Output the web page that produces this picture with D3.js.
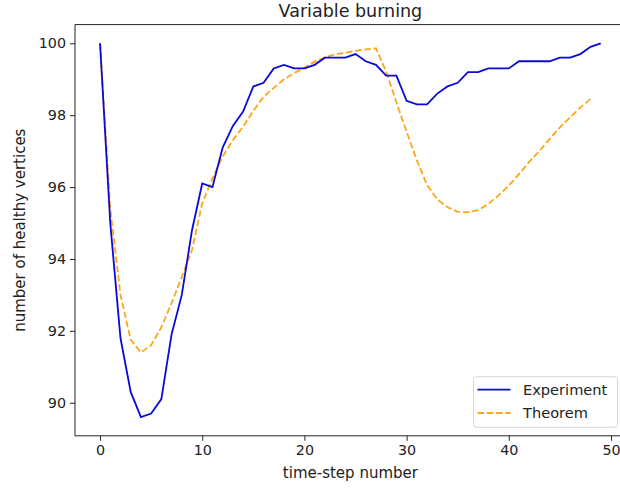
<!DOCTYPE html>
<html>
<head>
<meta charset="utf-8">
<script src="https://cdn.jsdelivr.net/npm/d3@7"></script>
<style>
  body { margin: 0; background: #fff; }
  svg { display: block; font-family: "DejaVu Sans", sans-serif; }
</style>
</head>
<body>
<svg id="chart" width="620" height="490"></svg>
<script>
// values
const steps = d3.range(0, 50);
const experiment = [
  100.0, 95.0, 91.8, 90.3, 89.6, 89.7, 90.1, 91.9, 93.0, 94.8,
  96.1, 96.0, 97.1, 97.7, 98.1, 98.8, 98.9, 99.3, 99.4, 99.3,
  99.3, 99.4, 99.6, 99.6, 99.6, 99.7, 99.5, 99.4, 99.1, 99.1,
  98.4, 98.3, 98.3, 98.6, 98.8, 98.9, 99.2, 99.2, 99.3, 99.3,
  99.3, 99.5, 99.5, 99.5, 99.5, 99.6, 99.6, 99.7, 99.9, 100.0
];
const theorem = [
  100.0, 95.4, 93.0, 91.75, 91.4, 91.6, 92.1, 92.77, 93.5, 94.25,
  95.55, 96.24, 96.85, 97.31, 97.68, 98.12, 98.51, 98.76, 99.0, 99.17,
  99.32, 99.49, 99.61, 99.69, 99.74, 99.79, 99.83, 99.86, 99.21, 98.36,
  97.54, 96.75, 96.06, 95.66, 95.44, 95.31, 95.3, 95.36, 95.53, 95.77,
  96.04, 96.36, 96.7, 97.01, 97.34, 97.66, 97.94, 98.21, 98.45
];
const xTicks = [0, 10, 20, 30, 40, 50];
const yTicks = [90, 92, 94, 96, 98, 100];
const seriesNames = ["Experiment", "Theorem"];

const svg = d3.select("#chart");
const plotLeft = 75, plotTop = 24.6, plotBottom = 435.8, plotRight = 625.8;

// matplotlib style 5% margins around the data
const xExt = [0, 49];
const xPad = (xExt[1] - xExt[0]) * 0.05;
const yMin = d3.min(experiment.concat(theorem)), yMax = d3.max(experiment.concat(theorem));
const yPad = (yMax - yMin) * 0.05;

const x = d3.scaleLinear().domain([xExt[0] - xPad, xExt[1] + xPad]).range([plotLeft, plotRight]);
const y = d3.scaleLinear().domain([yMin - yPad, yMax + yPad]).range([plotBottom, plotTop]);

const blue = "#0a0ad8", orange = "#ffa51a", dash = "6.5,2.8";

// axes
const xAxis = svg.append("g")
  .attr("transform", `translate(0,${plotBottom})`)
  .call(d3.axisBottom(x).tickValues(xTicks).tickSize(5).tickPadding(4).tickFormat(d3.format("d")));
const yAxis = svg.append("g")
  .attr("transform", `translate(${plotLeft},0)`)
  .call(d3.axisLeft(y).tickValues(yTicks).tickSize(5).tickPadding(4).tickFormat(d3.format("d")));

[xAxis, yAxis].forEach((g) => {
  g.selectAll("text").attr("font-size", 14.3).attr("fill", "#222").attr("font-family", "DejaVu Sans");
  g.selectAll("line").attr("stroke", "#222");
  g.select(".domain").remove();
});

// spines (frame)
svg.append("path")
  .attr("d", `M${plotLeft},${plotTop}H${plotRight}M${plotLeft},${plotTop}V${plotBottom}H${plotRight}`)
  .attr("fill", "none")
  .attr("stroke", "#222")
  .attr("stroke-width", 1);

const line = (vals) => d3.line()
  .x((d, i) => x(steps[i]))
  .y((d) => y(d))(vals);

svg.append("path")
  .attr("d", line(theorem))
  .attr("fill", "none")
  .attr("stroke", orange)
  .attr("stroke-width", 1.8)
  .attr("stroke-dasharray", dash);

svg.append("path")
  .attr("d", line(experiment))
  .attr("fill", "none")
  .attr("stroke", blue)
  .attr("stroke-width", 1.8);

// title and labels
svg.append("text")
  .attr("x", (plotLeft + plotRight) / 2)
  .attr("y", 17)
  .attr("text-anchor", "middle")
  .attr("font-size", 17.5)
  .attr("fill", "#222")
  .text("Variable burning");

svg.append("text")
  .attr("x", (plotLeft + plotRight) / 2)
  .attr("y", 478)
  .attr("text-anchor", "middle")
  .attr("font-size", 15)
  .attr("fill", "#222")
  .text("time-step number");

svg.append("text")
  .attr("transform", `translate(25,${(plotTop + plotBottom) / 2}) rotate(-90)`)
  .attr("text-anchor", "middle")
  .attr("font-size", 15)
  .attr("fill", "#222")
  .text("number of healthy vertices");

// legend
const legend = svg.append("g").attr("transform", "translate(473.5,376.7)");
legend.append("rect")
  .attr("width", 144)
  .attr("height", 50.6)
  .attr("rx", 3)
  .attr("fill", "#fff")
  .attr("fill-opacity", 0.8)
  .attr("stroke", "#d6d6d6");

const styles = [
  { color: blue, dash: null },
  { color: orange, dash: dash }
];
seriesNames.forEach((name, i) => {
  const cy = 13 + i * 23.3;
  legend.append("line")
    .attr("x1", 4).attr("x2", 37)
    .attr("y1", cy).attr("y2", cy)
    .attr("stroke", styles[i].color)
    .attr("stroke-width", 1.8)
    .attr("stroke-dasharray", styles[i].dash);
  legend.append("text")
    .attr("x", 49.5)
    .attr("y", cy)
    .attr("dy", "0.35em")
    .attr("font-size", 14.6)
    .attr("fill", "#222")
    .text(name);
});
</script>
</body>
</html>
